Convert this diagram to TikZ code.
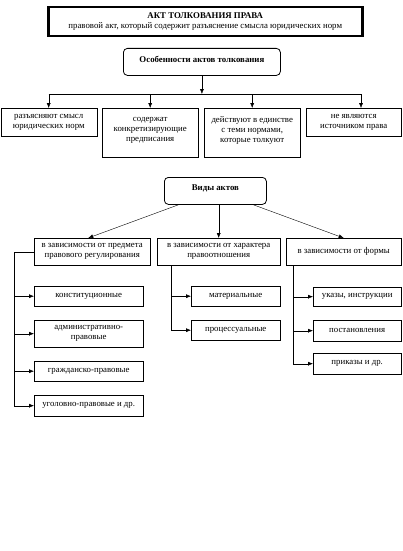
\documentclass[tikz,border=0pt]{standalone}
\usepackage{fontspec}
\setmainfont{Liberation Serif}
\usetikzlibrary{arrows.meta}
\usetikzlibrary{positioning}
\tikzset{
    leaf/.style={
           rectangle,
           draw, thin,
           anchor=north west,
           inner sep=1pt,
           align=center,
           font=\fontsize{8.8}{10}\selectfont,
           },
}
\tikzset{
    head/.style={
           rectangle,
           draw, thick,
           rounded corners=4pt,
           anchor=north west,
           text depth=6pt,
           font=\fontsize{8.8}{10}\selectfont\bfseries,
           },
}
\begin{document}
\begin{tikzpicture}[x=1pt,y=-1pt,>={Latex[length=5pt,width=4pt]}]
\useasboundingbox (0,0) rectangle (402,551);
\node[draw, line width=2.5pt, anchor=north west, align=center, minimum width=314, minimum height=29, inner sep=1pt, font=\fontsize{8.8}{10}\selectfont](title) at (47,6){\textbf{АКТ ТОЛКОВАНИЯ ПРАВА}\\правовой акт, который содержит разъяснение смысла юридических норм};
% особенности
\node[head, minimum width=157, minimum height=27](feat) at (123,48){Особенности актов толкования};
\node[leaf, minimum width=96, minimum height=28](f1) at (0.5,108){разъясняют смысл\\юридических норм};
\node[leaf, minimum width=96, minimum height=49, text depth=7pt](f2) at (102,108){содержат\\конкретизирующие\\предписания};
\node[leaf, minimum width=96, minimum height=49, text depth=7pt](f3) at (204,108){действуют в единстве\\с теми нормами,\\которые толкуют};
\node[leaf, minimum width=95, minimum height=28](f4) at (306,108){не являются\\источником права};
\coordinate (bar) at (feat.south |- 0,94);
\coordinate (f4in) at (361,108);
\draw[->] (feat.south) -- (bar);
\draw (f1.north |- bar) -- (f4in |- bar);
\foreach \t in {f1.north,f2.north,f3.north,f4in}
  \draw[->] (\t |- bar) -- (\t);
% виды
\node[head, minimum width=102, minimum height=27](kinds) at (164,177){Виды актов};
\node[leaf, minimum width=116, minimum height=27](k1) at (34,238){в зависимости от предмета\\правового регулирования};
\node[leaf, minimum width=123, minimum height=27](k2) at (157,238){в зависимости от характера\\правоотношения};
\node[leaf, minimum width=115, minimum height=27](k3) at (286,238){в зависимости от формы};
\draw[->] ([xshift=-37]kinds.south) -- ([xshift=-4]k1.north);
\draw[->] (kinds.south -| k2.north) -- (k2.north);
\draw[->] ([xshift=38]kinds.south) -- (k3.north);
\node[leaf, minimum width=109, minimum height=20](s1) at (34,286){конституционные};
\node[leaf, minimum width=109, minimum height=27](s2) at (34,320){административно-\\правовые};
\node[leaf, minimum width=109, minimum height=20](s3) at (34,361){гражданско-правовые};
\node[leaf, minimum width=109, minimum height=21](s4) at (34,395){уголовно-правовые и др.};
\node[leaf, minimum width=89, minimum height=20](c1) at (191,286){материальные};
\node[leaf, minimum width=89, minimum height=20](c2) at (191,320){процессуальные};
\node[leaf, minimum width=88, minimum height=19](m1) at (313,287){указы, инструкции};
\node[leaf, minimum width=88, minimum height=21](m2) at (313,320){постановления};
\node[leaf, minimum width=88, minimum height=21](m3) at (313,353){приказы и др.};
\draw (k1.west) -- (14,0 |- k1.west) coordinate (sv) -- (sv |- s4.west);
\foreach \n in {s1,s2,s3,s4}
  \draw[->] (sv |- \n.west) -- (\n.west);
\coordinate (cv) at (171,265);
\draw (cv) -- (cv |- c2.west);
\foreach \n in {c1,c2}
  \draw[->] (cv |- \n.west) -- (\n.west);
\coordinate (mv) at (293,265);
\draw (mv) -- (mv |- m3.west);
\foreach \n in {m1,m2,m3}
  \draw[->] (mv |- \n.west) -- (\n.west);
\end{tikzpicture}
\end{document}
